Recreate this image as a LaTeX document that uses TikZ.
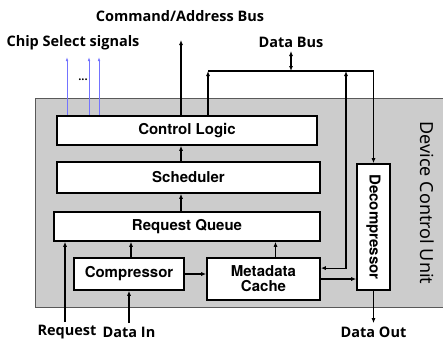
\documentclass[tikz,border=0pt]{standalone}
\usepackage{fontspec}
\setmainfont{Noto Sans}
\newfontfamily\boxfont{TeX Gyre Heros}
\newfontfamily\lblfont{Open Sans}
\usetikzlibrary{arrows.meta,calc}

\begin{document}
\begin{tikzpicture}[x=1pt,y=-1pt,>={Latex[length=5pt,width=4pt]},
  blk/.style={draw,fill=white,line width=1.6pt,inner sep=0pt,align=center,
    font=\boxfont\bfseries\fontsize{15}{17}\selectfont},
  lbl/.style={font=\lblfont\bfseries\fontsize{14.5}{16}\selectfont},
  wire/.style={line width=1.2pt},
  cs/.style={draw=blue!55!white,line width=0.7pt,->,>={Latex[length=4pt,width=2.5pt]}}]

\useasboundingbox (0,0) rectangle (443,340);

% unit background
\fill[black!20] (35,98.5) rectangle (450,307);
\draw[black!65,line width=0.8pt] (450,98.5) -- (35,98.5) -- (35,307) -- (450,307);
\node[rotate=-90,font=\fontsize{18}{20}\selectfont] (dcu) at (427,203) {Device Control Unit};

% blocks
\node[blk,minimum width=260,minimum height=29] (cl) at (187,130.5) {Control Logic};
\node[blk,minimum width=263,minimum height=31] (sch) at (188.5,177.5) {Scheduler};
\node[blk,minimum width=266,minimum height=29] (rq) at (187,226.5) {Request Queue};
\node[blk,minimum width=110,minimum height=32] (cmp) at (129,274) {Compressor};
\node[blk,minimum width=113,minimum height=42] (mc) at (263.5,279) {Metadata\\[-2pt]Cache};
\node[blk,rotate=-90,minimum width=126,minimum height=33] (dec) at (373.5,227) {Decompressor};

% outside labels
\node[lbl] (cab) at (180,16) {Command/Address Bus};
\node[lbl] (csl) at (73,43) {Chip Select signals};
\node[lbl] (dbl) at (291,42) {Data Bus};
\node[lbl] (req) at (67,332) {Request};
\node[lbl] (din) at (129,332) {Data In};
\node[lbl] (dout) at (373.5,332) {Data Out};
\node[font=\lblfont\bfseries\fontsize{11}{12}\selectfont] (dots) at (83,80) {...};

% free ends
\coordinate (cs1) at (67,57);
\coordinate (cs2) at (89,57);
\coordinate (cs3) at (99,57);
\coordinate (ca) at (181,40);
\coordinate (db) at (291,51);
\coordinate (busL) at (208,71);
\coordinate (busM) at (291,71);
\coordinate (busT) at (346,71);
\coordinate (busR) at (373.5,71);
\coordinate (reqin) at (65,322);
\coordinate (mcin) at ($(mc.east)!0.5!(mc.north east)$);
\coordinate (cmpup) at ($(cmp.north)+(2,0)$);
\coordinate (mcup) at ($(mc.north)+(12,0)$);

% chip select
\foreach \c in {cs1,cs2,cs3}
  \draw[cs] (\c |- cl.north) -- (\c);

% buses
\draw[wire,->] (ca |- cl.north) -- (ca);
\draw[wire,->] (busL |- cl.north) -- (busL);
\draw[wire] (busL) -- (busR);
\draw[wire,<->] (busM) -- (db);
\draw[wire,<->] (busT) -- (busT |- mcin) -- (mcin);
\draw[wire,->] (busR) -- (dec.west);

% inner flow
\draw[wire,->] (ca |- rq.north) -- (ca |- sch.south);
\draw[wire,->] (ca |- sch.north) -- (ca |- cl.south);
\draw[wire,->] (cmpup) -- (cmpup |- rq.south);
\draw[wire,->] (mcup) -- (mcup |- rq.south);
\draw[wire,->] (cmp.east) -- (cmp.east -| mc.west);
\draw[wire,->] (mc.east) -- (mc.east -| dec.south);

% in / out
\draw[wire,->] (reqin) -- (reqin |- rq.south);
\draw[wire,->] (cmp.south |- din.north) -- (cmp.south);
\draw[wire,->] (dec.east) -- (dout.north);

\end{tikzpicture}
\end{document}
